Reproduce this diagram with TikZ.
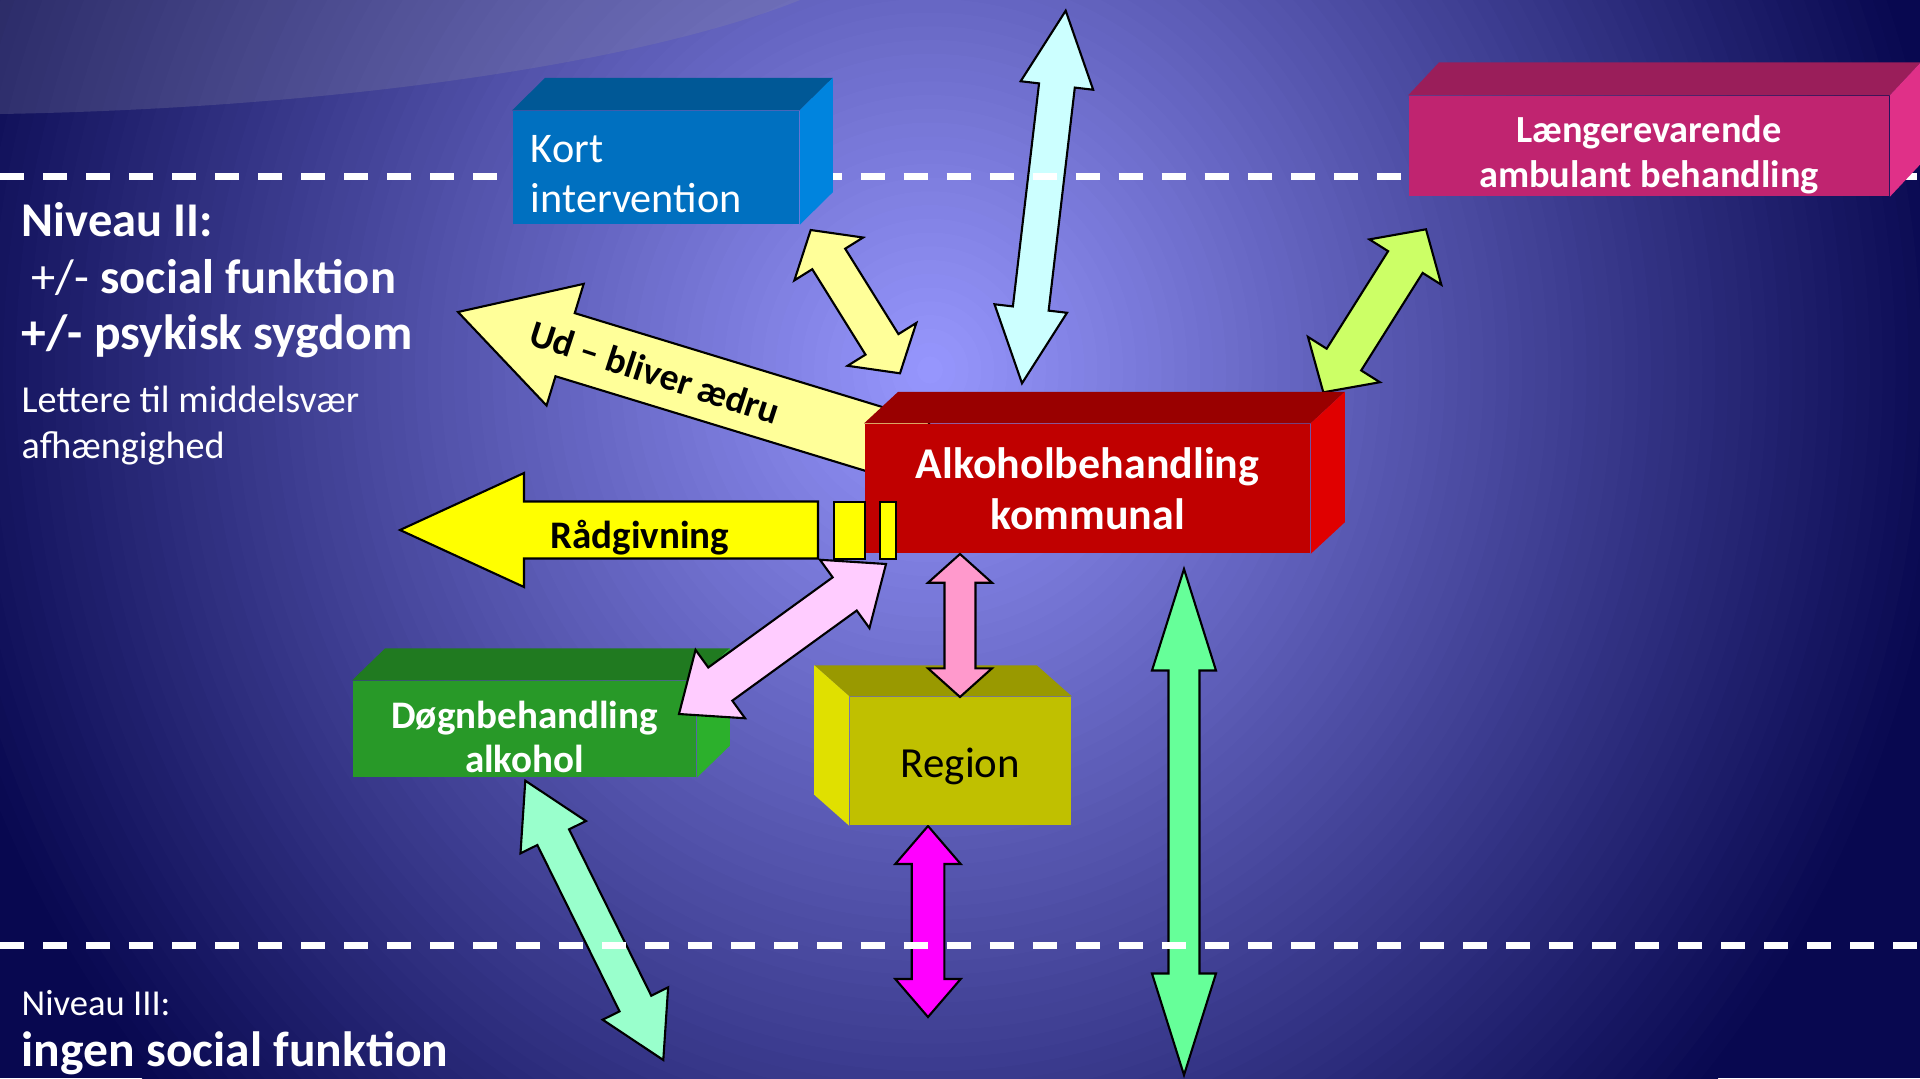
\documentclass[tikz,border=0pt]{standalone}
\usepackage{fontspec}
\setmainfont{Carlito}
\usetikzlibrary{calc}

\providecommand{\setfs}[2]{\fontsize{#1}{#2}\selectfont}

\definecolor{bgOut}{RGB}{8,8,80}
\definecolor{swooshgray}{RGB}{140,140,165}

\definecolor{kortfront}{RGB}{0,112,192}
\definecolor{korttop}{RGB}{0,88,150}
\definecolor{kortside}{RGB}{0,132,222}
\definecolor{langfront}{RGB}{192,36,112}
\definecolor{langtop}{RGB}{154,30,90}
\definecolor{langside}{RGB}{224,48,136}
\definecolor{alkfront}{RGB}{192,0,0}
\definecolor{alktop}{RGB}{153,0,0}
\definecolor{alkside}{RGB}{224,0,0}
\definecolor{dognfront}{RGB}{40,153,40}
\definecolor{dogntop}{RGB}{32,122,32}
\definecolor{dognside}{RGB}{44,176,44}
\definecolor{regfront}{RGB}{192,192,0}
\definecolor{regtop}{RGB}{153,153,0}
\definecolor{regside}{RGB}{224,224,0}

\definecolor{arrpale}{RGB}{255,255,153}
\definecolor{arryellow}{RGB}{255,255,0}
\definecolor{arrcyan}{RGB}{204,255,255}
\definecolor{arrlime}{RGB}{204,255,102}
\definecolor{arrpink}{RGB}{255,153,204}
\definecolor{arrlilac}{RGB}{255,204,255}
\definecolor{arrgreen}{RGB}{102,255,153}
\definecolor{arrmagenta}{RGB}{255,0,255}
\definecolor{arraqua}{RGB}{153,255,204}

% #1 fill, #2 tip, #3 tip, #4 shaft half width, #5 head half width, #6 head length (px)
\newcommand{\BiArrow}[6]{%
  \coordinate (ba1) at ($(#2)!#6*0.01cm!(#3)$);
  \coordinate (ba2) at ($(#3)!#6*0.01cm!(#2)$);
  \filldraw[BlockArrow, fill=#1] (#2)
    -- ($(ba1)!#5*0.01cm!90:(#3)$) -- ($(ba1)!#4*0.01cm!90:(#3)$)
    -- ($(ba2)!#4*0.01cm!-90:(#2)$) -- ($(ba2)!#5*0.01cm!-90:(#2)$)
    -- (#3)
    -- ($(ba2)!#5*0.01cm!90:(#2)$) -- ($(ba2)!#4*0.01cm!90:(#2)$)
    -- ($(ba1)!#4*0.01cm!-90:(#3)$) -- ($(ba1)!#5*0.01cm!-90:(#3)$)
    -- cycle;
}
% #1 fill, #2 tip, #3 tail, #4 shaft half width, #5 head half width, #6 head length (px)
\newcommand{\OneArrow}[6]{%
  \coordinate (ba1) at ($(#2)!#6*0.01cm!(#3)$);
  \filldraw[BlockArrow, fill=#1] (#2)
    -- ($(ba1)!#5*0.01cm!90:(#3)$) -- ($(ba1)!#4*0.01cm!90:(#3)$)
    -- ($(#3)!#4*0.01cm!-90:(#2)$) -- ($(#3)!#4*0.01cm!90:(#2)$)
    -- ($(ba1)!#4*0.01cm!-90:(#3)$) -- ($(ba1)!#5*0.01cm!-90:(#3)$)
    -- cycle;
}
% #1 node, #2 top colour, #3 side colour, #4 east/west, #5 depth
\newcommand{\CubeFaces}[5]{%
  \fill[#2] (#1.north west) -- ++(#5) -- ($(#1.north east)+(#5)$) -- (#1.north east) -- cycle;
  \fill[#3] (#1.north #4) -- ++(#5) -- ($(#1.south #4)+(#5)$) -- (#1.south #4) -- cycle;
}

\begin{document}
\begin{tikzpicture}[x=0.01cm, y=-0.01cm]
\tikzset{
  BlockArrow/.style = {draw=black, line width=0.6pt, line join=miter},
  FrontFace/.style = {inner sep=0pt, text=white, align=center},
  SideText/.style = {inner sep=0pt, anchor=base west, text=white},
  LevelLine/.style = {white, line width=0.07cm, dash pattern=on 0.24cm off 0.19cm},
}
\useasboundingbox (0,0) rectangle (1920,1078);
\clip (0,0) rectangle (1920,1078);

  % baggrund
  \fill[bgOut] (0,0) rectangle (1920,1078);
  \foreach \i in {80,79,...,1}{
    \pgfmathsetmacro{\rr}{\i/80}
    \pgfmathsetmacro{\cR}{(8+144*(1-\rr))/255}
    \pgfmathsetmacro{\cB}{(80+175*(1-\rr))/255}
    \definecolor{bgtmp}{rgb}{\cR,\cR,\cB}
    \fill[bgtmp] (930,370) ellipse [x radius=\rr*1030, y radius=\rr*1100];
  }
  \fill[swooshgray, fill opacity=0.25] (0,0) -- (0,114)
    .. controls (350,108) and (650,60) .. (800,0) -- cycle;

  % pile ender
  \coordinate (udTip)  at (458,312);
  \coordinate (udEnd)  at (920,453);
  \coordinate (radTip) at (400,530);
  \coordinate (radEnd) at (818,530);
  \coordinate (kortA)  at (810.7,230);
  \coordinate (kortB)  at (900,373.3);
  \coordinate (cyanA)  at (1065.7,10.7);
  \coordinate (cyanB)  at (1022,383.3);
  \coordinate (limeA)  at (1426,229.3);
  \coordinate (limeB)  at (1323.3,392.3);
  \coordinate (lilacA) at (886,564);
  \coordinate (lilacB) at (679,714);
  \coordinate (pinkA)  at (960,554);
  \coordinate (pinkB)  at (960,697);
  \coordinate (magA)   at (928,826);
  \coordinate (magB)   at (928,1017);
  \coordinate (greenA) at (1184,569);
  \coordinate (greenB) at (1184,1075);
  \coordinate (aquaA)  at (525.3,780.7);
  \coordinate (aquaB)  at (663.3,1060);

  \OneArrow{arrpale}{udTip}{udEnd}{33}{63.6}{112}
  \node[font=\bfseries\setfs{10.7}{13}, rotate=-18, inner sep=0pt] (udtxt) at (655,372) {Ud – bliver ædru};

  \BiArrow{arrcyan}{cyanA}{cyanB}{18}{36.5}{75.3}
  \BiArrow{arrlime}{limeA}{limeB}{20.4}{42.5}{38.7}
  \BiArrow{arrpale}{kortA}{kortB}{19.4}{40.5}{34.1}
  \BiArrow{arrgreen}{greenA}{greenB}{15.5}{32}{101.5}
  \BiArrow{arrmagenta}{magA}{magB}{16.3}{32.7}{38}
  \BiArrow{arraqua}{aquaA}{aquaB}{17.7}{36.5}{63}

  % niveau linjer
  \draw[LevelLine] (0,176) -- (1920,176);
  \draw[LevelLine] (0,945) -- (1920,945);

  % kasser
  \node[FrontFace, fill=kortfront, minimum width=2.86cm, minimum height=1.13cm,
        text width=2.5cm, align=left, font=\setfs{12}{14.2}] (kort) at (656,167.5)
        {\rule{0pt}{0.40cm}Kort\\intervention};
  \CubeFaces{kort}{korttop}{kortside}{east}{33,-32.5}

  \node[FrontFace, fill=langfront, minimum width=4.8cm, minimum height=1cm,
        font=\bfseries\setfs{10.9}{12.8}] (lang) at (1649,146)
        {\rule{0pt}{0.44cm}Længerevarende\\ambulant behandling};
  \CubeFaces{lang}{langtop}{langside}{east}{31,-33}

  \node[FrontFace, fill=alkfront, minimum width=4.45cm, minimum height=1.29cm,
        font=\bfseries\setfs{12.5}{14.5}] (alk) at (1087.5,488.5)
        {Alkoholbehandling\\kommunal};
  \CubeFaces{alk}{alktop}{alkside}{east}{34,-31.5}

  \node[FrontFace, fill=dognfront, minimum width=3.43cm, minimum height=0.96cm,
        font=\bfseries\setfs{11.1}{12.5}] (dogn) at (524.5,729)
        {\rule{0pt}{0.43cm}Døgnbehandling\\alkohol};
  \CubeFaces{dogn}{dogntop}{dognside}{east}{33,-32}

  \node[FrontFace, fill=regfront, text=black, minimum width=2.21cm,
        text height=0.8cm, text depth=0.48cm, font=\setfs{12.2}{14}] (region) at (960.5,761)
        {Region};
  \CubeFaces{region}{regtop}{regside}{west}{-35,-31}

  % raadgivning
  \OneArrow{arryellow}{radTip}{radEnd}{28.5}{57}{124}
  \filldraw[BlockArrow, fill=arryellow] (834,502) rectangle (865,559);
  \filldraw[BlockArrow, fill=arryellow] (880,502) rectangle (896,559);
  \node[font=\bfseries\setfs{11.1}{13}, anchor=base, inner sep=0pt] (radtxt) at (640,548) {Rådgivning};

  \BiArrow{arrlilac}{lilacA}{lilacB}{20.5}{42.2}{51}
  \BiArrow{arrpink}{pinkA}{pinkB}{15.5}{32}{28.7}

  % tekst til venstre
  \node[SideText, font=\bfseries\setfs{13.8}{16}] (niv2) at (21,236) {Niveau II:};
  \node[SideText, font=\bfseries\setfs{13.8}{16}] (soc) at (31,293) {{\mdseries +/-} social funktion};
  \node[SideText, font=\bfseries\setfs{14.1}{16}] (psyk) at (21,349) {+/- psykisk sygdom};
  \node[SideText, font=\setfs{10.85}{13}] (let1) at (21,412) {Lettere til middelsvær};
  \node[SideText, font=\setfs{10.85}{13}] (let2) at (21,458) {afhængighed};
  \node[SideText, font=\setfs{10.4}{12.5}] (niv3) at (21,1015) {Niveau III:};
  \node[SideText, font=\bfseries\setfs{14.1}{16}] (ingen) at (21,1066) {ingen social funktion};

\end{tikzpicture}
\end{document}
